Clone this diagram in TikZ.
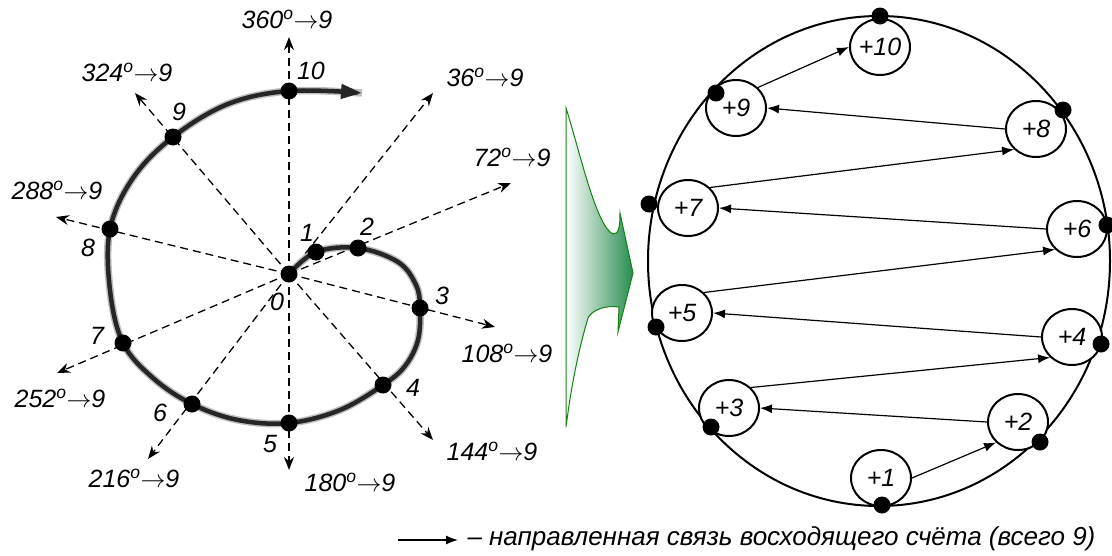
\documentclass[tikz,border=0pt]{standalone}
\usepackage{fontspec}
\setmainfont{Liberation Sans}
\usetikzlibrary{arrows.meta,shapes.geometric}
\definecolor{arrowgreen}{RGB}{40,140,80}
\definecolor{edgegreen}{RGB}{20,130,20}

\begin{document}
\begin{tikzpicture}[
    x=1pt, y=-1pt,
    every node/.style={font=\fontsize{25}{29}\selectfont\itshape},
    dot/.style={circle, fill=black, minimum size=17pt, inner sep=0pt},
    ray/.style={-{Stealth[length=13pt,width=10pt]}, line width=1.3pt, dash pattern=on 8pt off 5pt},
    turn/.style={line width=4.5pt, black!85, line cap=round},
    cnt/.style={ellipse, draw, line width=2pt, fill=white, minimum width=60pt, minimum height=56pt, inner sep=0pt, font=\fontsize{25}{29}\selectfont\itshape},
    link/.style={-{Latex[length=12pt,width=9pt]}, line width=1.2pt}
]
  \useasboundingbox (0,0) rectangle (1112,555);

  % rays
  \coordinate (O) at (289,274);
  \coordinate (t360) at (289,37);
  \coordinate (t36)  at (433,93);
  \coordinate (t72)  at (511,183);
  \coordinate (t108) at (495,327);
  \coordinate (t144) at (433,440);
  \coordinate (t180) at (289,470);
  \coordinate (t216) at (148,459);
  \coordinate (t252) at (57,373);
  \coordinate (t288) at (56,217);
  \coordinate (t324) at (135,93);
  \foreach \t in {t360,t36,t72,t108,t144,t180,t216,t252,t288,t324}
    \draw[ray] (O) -- (\t);

  % spiral
  \draw[turn, -{Triangle[length=21pt,width=14pt]},
        preaction={draw, -, line width=7.5pt, black!25}]
    plot[smooth, tension=0.6] coordinates {(289,274) (316,252) (358,248) (398,262)
      (416,285) (420,308) (418,340) (405,366) (383,385) (340,410) (289,423)
      (238,420) (192,404) (153,378) (123,343) (110,290) (110,229) (133,178)
      (173,137) (228,104) (289,91) (362,93)};

  % points of the spiral
  \node[dot] (d0) at (289,274) {};
  \node[dot] (d1) at (316,252) {};
  \node[dot] (d2) at (358,248) {};
  \node[dot] (d3) at (420,308) {};
  \node[dot] (d4) at (383,385) {};
  \node[dot] (d5) at (289,423) {};
  \node[dot] (d6) at (192,404) {};
  \node[dot] (d7) at (123,343) {};
  \node[dot] (d8) at (110,229) {};
  \node[dot] (d9) at (173,137) {};
  \node[dot] (d10) at (289,91) {};

  \node (n0) at (277,302) {0};
  \node (n1) at (307,233) {1};
  \node (n2) at (367,227) {2};
  \node (n3) at (442,296) {3};
  \node (n4) at (413,388) {4};
  \node (n5) at (270,444) {5};
  \node (n6) at (160,413) {6};
  \node (n7) at (97,336) {7};
  \node (n8) at (88,248) {8};
  \node (n9) at (179,112) {9};
  \node (n10) at (311,71) {10};

  % angles
  \node (a360) at (287,19)  {360\textsuperscript{o}$\rightarrow$9};
  \node (a36)  at (485,77)  {36\textsuperscript{o}$\rightarrow$9};
  \node (a72)  at (512,157) {72\textsuperscript{o}$\rightarrow$9};
  \node (a108) at (507,353) {108\textsuperscript{o}$\rightarrow$9};
  \node (a144) at (492,451) {144\textsuperscript{o}$\rightarrow$9};
  \node (a180) at (350,482) {180\textsuperscript{o}$\rightarrow$9};
  \node (a216) at (134,478) {216\textsuperscript{o}$\rightarrow$9};
  \node (a252) at (60,398)  {252\textsuperscript{o}$\rightarrow$9};
  \node (a288) at (57,190)  {288\textsuperscript{o}$\rightarrow$9};
  \node (a324) at (127,72)  {324\textsuperscript{o}$\rightarrow$9};

  % big arrow
  \path[draw=edgegreen, line width=1pt, left color=white, right color=arrowgreen]
    (566,427) -- (566,108)
    .. controls (580,152) and (596,226) .. (613,234)
    .. controls (619,235) and (620,225) .. (620,213)
    -- (633,273) -- (618,332) -- (619,307)
    .. controls (605,305) and (592,310) .. (588,318)
    .. controls (580,345) and (572,380) .. (566,427) -- cycle;

  % ring
  \coordinate (C) at (879,261);
  \draw[line width=2pt] (C) ellipse [x radius=231pt, y radius=245pt];

  \node[cnt] (p1)  at (881,478) {+1};
  \node[cnt] (p2)  at (1018,422) {+2};
  \node[cnt] (p3)  at (729,408) {+3};
  \node[cnt] (p4)  at (1072,337) {+4};
  \node[cnt] (p5)  at (682,313) {+5};
  \node[cnt] (p6)  at (1077,229) {+6};
  \node[cnt] (p7)  at (688,208) {+7};
  \node[cnt] (p8)  at (1036,129) {+8};
  \node[cnt] (p9)  at (736,108) {+9};
  \node[cnt] (p10) at (880,47) {+10};

  \foreach \k/\x/\y in {10/880/16, 9/716/93, 8/1063/110, 7/649/204, 6/1107/225,
                        5/656/327, 4/1101/344, 3/711/427, 2/1040/442, 1/882/505}
    \node[dot] (e\k) at (\x,\y) {};

  % links
  \draw[link] (p1.east) -- (p2.south west);
  \draw[link] (p2.west) -- (p3.east);
  \draw[link] (p3.north east) -- (p4.south west);
  \draw[link] (p4.west) -- (p5.east);
  \draw[link] (p5.north east) -- (p6.south west);
  \draw[link] (p6.west) -- (p7.east);
  \draw[link] (p7.north east) -- (p8.south west);
  \draw[link] (p8.west) -- (p9.east);
  \draw[link] (p9.north east) -- (p10.west);

  % legend
  \coordinate (la) at (398,540);
  \coordinate (lb) at (458,540);
  \draw[link] (la) -- (lb);
  \node[anchor=west, font=\fontsize{26}{30}\selectfont\itshape] (legend) at (464,539) {– направленная связь восходящего счёта (всего 9)};
\end{tikzpicture}
\end{document}
